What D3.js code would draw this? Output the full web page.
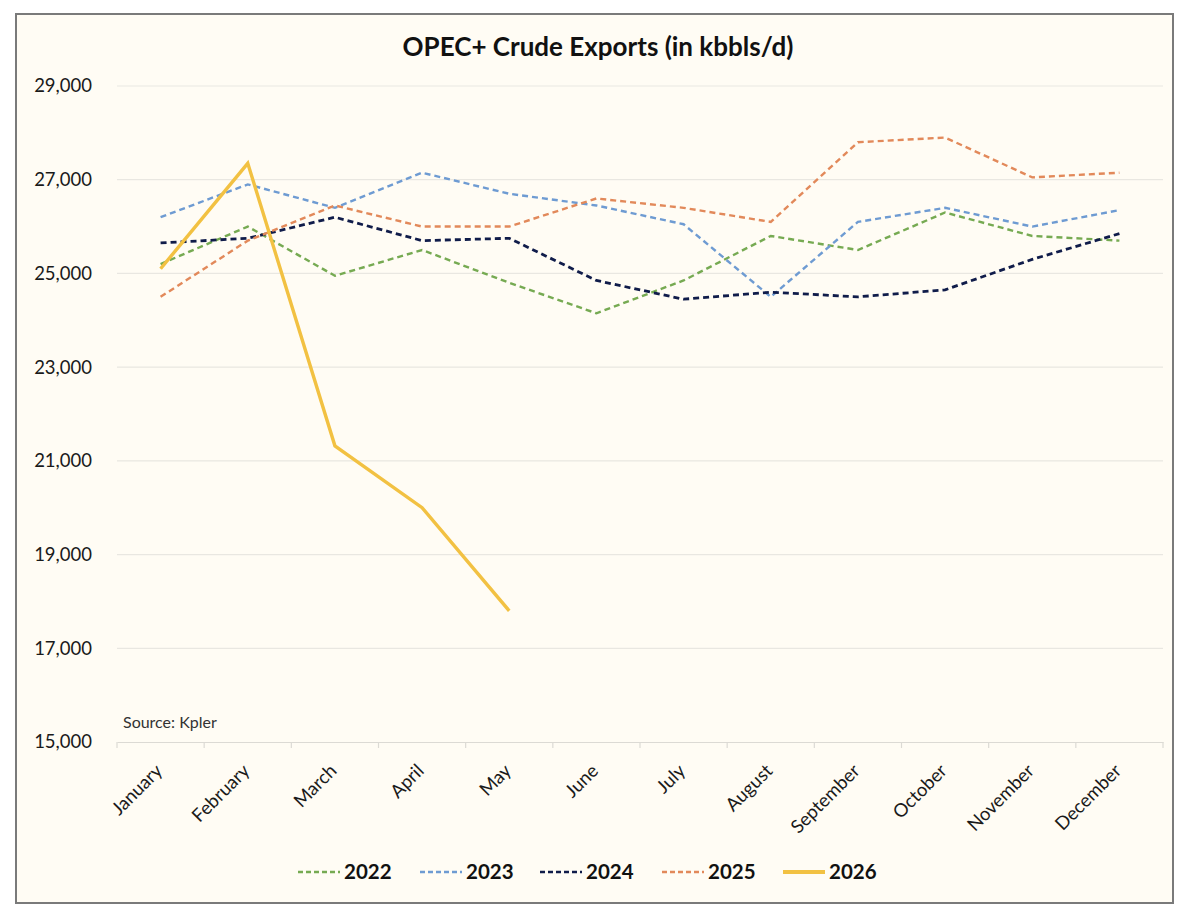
<!DOCTYPE html>
<html><head><meta charset="utf-8">
<script src="https://cdn.jsdelivr.net/npm/d3@7"></script>
<style>
html,body{margin:0;padding:0;background:#ffffff;}
svg{display:block;}
</style></head>
<body>
<script>
const months = ["January","February","March","April","May","June","July","August","September","October","November","December"];
const yTicks = [15000,17000,19000,21000,23000,25000,27000,29000];
const v2022 = [25200,26000,24950,25500,24800,24150,24850,25800,25500,26300,25800,25700];
const v2023 = [26200,26900,26400,27150,26700,26450,26050,24500,26100,26400,26000,26350];
const v2024 = [25650,25750,26200,25700,25750,24850,24450,24600,24500,24650,25300,25850];
const v2025 = [24500,25700,26450,26000,26000,26600,26400,26100,27800,27900,27050,27150];
const v2026 = [25100,27350,21320,20000,17800];
const seriesNames = ["2022","2023","2024","2025","2026"];
const seriesColors = ["#76aa52","#6e9bd2","#101c4a","#e2895a","#f2c142"];

const series = [
  {name:seriesNames[0], values:v2022, color:seriesColors[0], dash:"6,4", w:2.4},
  {name:seriesNames[1], values:v2023, color:seriesColors[1], dash:"6,4", w:2.4},
  {name:seriesNames[2], values:v2024, color:seriesColors[2], dash:"6,4", w:2.8},
  {name:seriesNames[3], values:v2025, color:seriesColors[3], dash:"6,4", w:2.4},
  {name:seriesNames[4], values:v2026, color:seriesColors[4], dash:null, w:3.4}
];

const W=1200,H=924;
const svg = d3.select("body").append("svg").attr("width",W).attr("height",H);
const font = "Lato, 'Open Sans', sans-serif";

svg.append("rect").attr("x",16).attr("y",14).attr("width",1157).attr("height",889)
  .attr("fill","#fffcf4").attr("stroke","#7a7a7a").attr("stroke-width",2);

const x = d3.scaleBand().domain(months).range([117,1163]);
const y = d3.scaleLinear().domain([15000,29000]).range([742,86]);

// gridlines
svg.append("g").selectAll("line").data(yTicks.slice(1)).join("line")
  .attr("x1",117).attr("x2",1163).attr("y1",d=>y(d)).attr("y2",d=>y(d))
  .attr("stroke","#e9e7e1").attr("stroke-width",1.2);

// y axis labels
const yAxis = d3.axisLeft(y).tickValues(yTicks).tickFormat(d3.format(",")).tickSize(0).tickPadding(25);
const yg = svg.append("g").attr("transform","translate(117,0)").call(yAxis);
yg.select(".domain").remove();
yg.selectAll("text").attr("font-family",font).attr("font-size",18.5).attr("fill","#1a1a1a");

// x axis
const xAxis = d3.axisBottom(x).tickSize(0);
const xg = svg.append("g").attr("transform","translate(0,742)").call(xAxis);
xg.select(".domain").attr("stroke","#dcdad4").attr("stroke-width",1.2);
xg.selectAll("text").attr("font-family",font).attr("font-size",18.5).attr("fill","#1a1a1a")
  .attr("text-anchor","end").attr("x",0).attr("y",0).attr("dy",0)
  .attr("transform","translate(3,30) rotate(-45)");
// band boundary ticks
svg.append("g").selectAll("line").data(months.concat(["__end"])).join("line")
  .attr("x1",(d,i)=>117+i*x.step()).attr("x2",(d,i)=>117+i*x.step())
  .attr("y1",742).attr("y2",748).attr("stroke","#dcdad4").attr("stroke-width",1.2);

// lines
const line = d3.line().x((d,i)=>x(months[i])+x.bandwidth()/2).y(d=>y(d));
series.forEach(s=>{
  svg.append("path").datum(s.values).attr("d",line).attr("fill","none")
    .attr("stroke",s.color).attr("stroke-width",s.w)
    .attr("stroke-dasharray",s.dash).attr("stroke-linejoin","miter");
});

// title
svg.append("text").attr("x",598).attr("y",56).attr("text-anchor","middle")
  .attr("font-family",font).attr("font-weight","bold").attr("font-size",26).attr("fill","#111")
  .text("OPEC+ Crude Exports (in kbbls/d)");

// source
svg.append("text").attr("x",123).attr("y",728).attr("font-family",font).attr("font-size",16)
  .attr("fill","#333").text("Source: Kpler");

// legend
const legX = [298,420,540,662,783];
series.forEach((s,i)=>{
  const g = svg.append("g").attr("transform",`translate(${legX[i]},872)`);
  g.append("line").attr("x1",0).attr("x2",42).attr("y1",0).attr("y2",0)
    .attr("stroke",s.color).attr("stroke-width",s.dash?2.4:3.8).attr("stroke-dasharray",s.dash?"5,3":null);
  g.append("text").attr("x",46).attr("y",7).attr("font-family",font).attr("font-weight","bold")
    .attr("font-size",20.5).attr("fill","#111").text(s.name);
});
</script>
</body></html>
